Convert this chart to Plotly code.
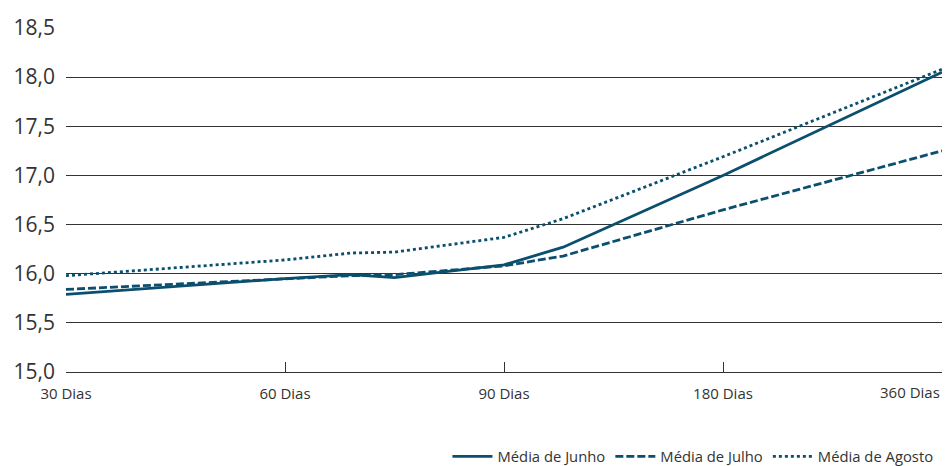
import plotly.graph_objects as go

# Data (x positions on category scale 0..4)
tick_labels = ["30 Dias", "60 Dias", "90 Dias", "180 Dias", "360 Dias"]
positions = [0, 1, 1.3, 1.5, 2, 2.27, 3, 4]
media_junho = [15.79, 15.95, 15.99, 15.96, 16.09, 16.27, 17.00, 18.05]
media_julho = [15.84, 15.95, 15.98, 15.99, 16.08, 16.18, 16.65, 17.25]
media_agosto = [15.98, 16.14, 16.21, 16.22, 16.37, 16.56, 17.19, 18.08]
y_ticks = [15.0, 15.5, 16.0, 16.5, 17.0, 17.5, 18.0, 18.5]

color = "#0b4f6e"
fig = go.Figure()
fig.add_trace(go.Scatter(x=positions, y=media_junho, mode="lines", name="Média de Junho",
                         line=dict(color=color, width=2.8)))
fig.add_trace(go.Scatter(x=positions, y=media_julho, mode="lines", name="Média de Julho",
                         line=dict(color=color, width=2.8, dash="8px,3px")))
fig.add_trace(go.Scatter(x=positions, y=media_agosto, mode="lines", name="Média de Agosto",
                         line=dict(color=color, width=2.8, dash="3px,3px")))

ticktext = tick_labels[:-1] + [""]

fig.update_layout(
    width=946, height=466,
    margin=dict(l=66, r=4, t=28, b=94),
    paper_bgcolor="white", plot_bgcolor="white",
    font=dict(family="Open Sans", color="#333333"),
    separators=",.",
    showlegend=True,
    legend=dict(orientation="h", xref="container", yref="container",
                x=0.473, xanchor="left", y=0.02, yanchor="middle",
                font=dict(size=14.8, color="#333333"), itemwidth=40, tracegroupgap=0),
    xaxis=dict(range=[0, 4], tickmode="array", tickvals=list(range(len(tick_labels))),
               ticktext=ticktext, showgrid=False, zeroline=False, automargin=False,
               showline=True, linecolor="#333333", linewidth=1.2,
               ticks="inside", ticklen=10, tickcolor="#333333", tickwidth=1.2,
               ticklabelstandoff=8,
               tickfont=dict(size=15, color="#333333")),
    yaxis=dict(range=[15.0, 18.5], tickmode="array", tickvals=y_ticks, automargin=False,
               tickformat=".1f", showgrid=True, gridcolor="#333333", gridwidth=1.2,
               zeroline=False, showline=False, ticks="", ticklabelstandoff=10,
               tickfont=dict(size=21, color="#333333")),
    annotations=[dict(text=tick_labels[-1], x=4, y=0, xref="x", yref="paper",
                      xanchor="right", yanchor="top", yshift=-8, showarrow=False,
                      font=dict(size=15, color="#333333"))],
)

fig.write_html("out.html", config={"displayModeBar": False},
               post_script="document.body.style.margin='0';")
